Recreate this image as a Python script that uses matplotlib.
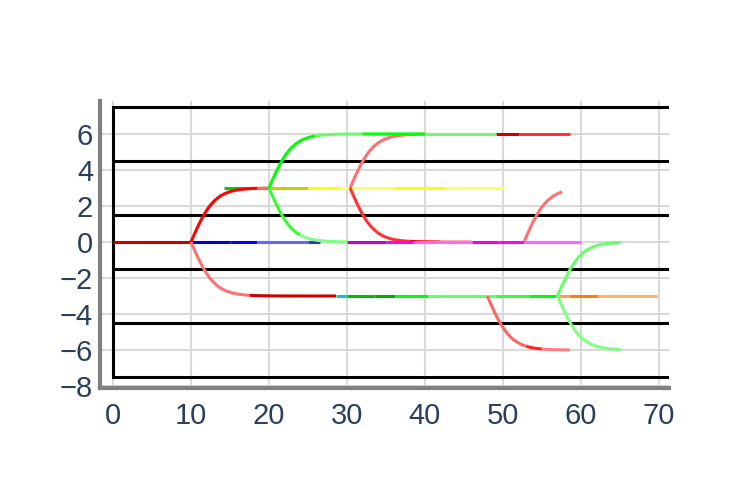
import numpy as np
import matplotlib
matplotlib.use("Agg")
from matplotlib import pyplot as plt

plt.rcParams['font.family'] = ['Liberation Sans', 'DejaVu Sans']

# lineages: start time, parent y, shift in y, colour pieces (from, to, colour)
starts = [0, 10, 14.2, 10, 10, 20, 30.4, 20, 20, 30.4, 30, 28.6, 48, 57, 57, 57, 52.7]
parent_y = [0, 0, 3, 0, 0, 3, 3, 3, 3, 3, 0, -3, -3, -3, -3, -3, 0]
shift_y = [0, 0, 0, 3, -3, 0, 3, 3, -3, -3, 0, 0, -3, 0, 3, -3, 3]
pieces = [
    [(0, 10, '#cc0000')],
    [(10, 15, '#0000cc'), (15, 18.5, '#0000ff'), (18.5, 25, '#6666ff'), (25, 26.5, '#3333cc')],
    [(14.2, 20, '#00cc00')],
    [(10, 18.5, '#ff0000'), (18.5, 20, '#ff6666')],
    [(10, 17.5, '#ff7070'), (17.5, 28.6, '#cc0000')],
    [(20, 25, '#cccc00'), (25, 29, '#ffff00'), (29, 36, '#ffff66'), (36, 42.5, '#ffff00'), (42.5, 50.2, '#ffff66')],
    [(30.4, 40, '#ff7070'), (49.1, 52, '#cc0000'), (52, 58.6, '#ff3333')],
    [(20, 26, '#00ff00'), (26, 32, '#66ff66'), (32, 40, '#00ff00'), (40, 49.1, '#66ff66')],
    [(20, 24, '#33ff33'), (24, 30, '#80ff80')],
    [(30.4, 38, '#ff3333'), (38, 42, '#ff0000'), (42, 46, '#ff8080')],
    [(30, 35, '#cc00cc'), (35, 38.5, '#ff00ff'), (38.5, 46, '#ff66ff'), (46, 49.5, '#ee00ee'),
     (49.5, 52.7, '#ff00ff'), (52.7, 60, '#ff66ff')],
    [(28.6, 30, '#00cccc'), (30, 33.6, '#00bb00'), (33.6, 36.2, '#00aa00'), (36.2, 40.4, '#00ff00'),
     (40.4, 49, '#66ff66'), (49, 53.3, '#33ff33'), (53.3, 57, '#00ff00')],
    [(48, 53, '#ff6666'), (53, 55, '#ff2020'), (55, 58.6, '#ff8080')],
    [(57, 58.5, '#ffa050'), (58.5, 62.2, '#ff8000'), (62.2, 69.7, '#ffb366')],
    [(57, 65.1, '#66ff66')],
    [(57, 65.1, '#80ff80')],
    [(52.7, 57.6, '#ff7070')],
]
box_edges = [-7.5, -4.5, -1.5, 1.5, 4.5, 7.5]

fig = plt.figure(figsize=(7.51, 4.91), dpi=100)
ax = fig.add_axes([100 / 751, 1 - 388 / 491, 569 / 751, 287 / 491])
ax.set_xlim(-1.67, 71.3)
ax.set_ylim(-8.11, 7.83)

for y in box_edges:
    ax.plot([0, 80], [y, y], color='black', lw=2.2, zorder=2, solid_capstyle='butt')
ax.plot([0, 0], [box_edges[0], box_edges[-1]], color='black', lw=2.2, zorder=2)

for t0, y0, dy, segs in zip(starts, parent_y, shift_y, pieces):
    for a, b, c in segs:
        xs = np.linspace(a, b, 60)
        ys = y0 + dy * np.tanh((xs - t0) / 3.0)
        ax.plot(xs, ys, color=c, lw=2.2, zorder=3, solid_capstyle='butt')

ax.set_xticks(range(0, 71, 10))
ax.set_yticks(range(-8, 7, 2))
ax.set_yticklabels(['\u2212' + str(-v) if v < 0 else str(v) for v in range(-8, 7, 2)])
ax.grid(True, color='#d9d9d9', lw=1.5, zorder=0)
ax.set_axisbelow(True)
ax.tick_params(length=0, labelsize=21, labelcolor='#2a3f5f')
ax.tick_params(axis='x', pad=10)
ax.tick_params(axis='y', pad=5)
for s in ['top', 'right']:
    ax.spines[s].set_visible(False)
for s in ['left', 'bottom']:
    ax.spines[s].set_color('#808080')
    ax.spines[s].set_linewidth(3)

fig.savefig('out.png', dpi=100)
